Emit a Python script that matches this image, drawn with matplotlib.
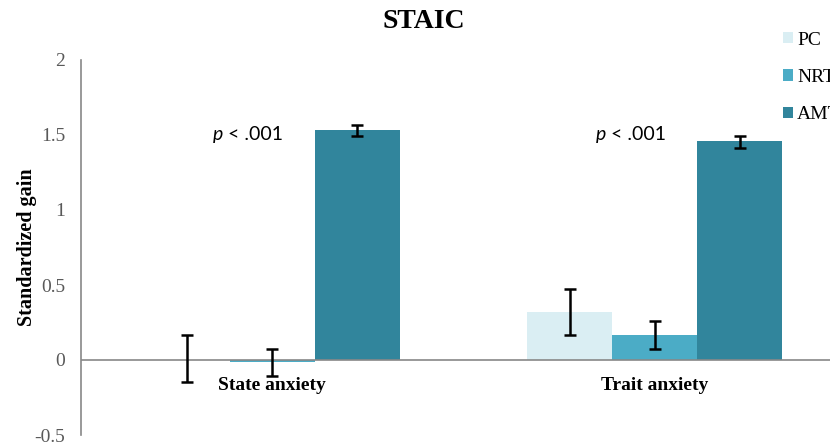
import matplotlib
matplotlib.use("Agg")
import matplotlib.pyplot as plt
import numpy as np
from matplotlib.patches import Patch

categories = ["State anxiety", "Trait anxiety"]
groups = ["PC", "NRT", "AMT"]
pc_gain = [0.0, 0.32]
nrt_gain = [-0.015, 0.165]
amt_gain = [1.53, 1.46]
pc_err_center = [0.01, 0.32]
nrt_err_center = [-0.017, 0.165]
amt_err_center = [1.53, 1.455]
pc_err = [0.155, 0.155]
nrt_err = [0.09, 0.093]
amt_err = [0.037, 0.04]
p_labels = ["< .001", "< .001"]
yticks = [-0.5, 0, 0.5, 1, 1.5, 2]
ytick_labels = ["-0.5", "0", "0.5", "1", "1.5", "2"]

colors = ["#DAEEF3", "#4BACC6", "#31859C"]
serif = ["Liberation Serif", "DejaVu Serif"]
sans = ["Lato", "DejaVu Sans"]

fig = plt.figure(figsize=(8.30, 4.44), dpi=100)
# plot area runs past the right edge of the figure
ax = fig.add_axes([81 / 830, 1 - 435 / 444, 765 / 830, 375 / 444])

x = np.arange(len(categories))
w = 1 / 4.5
values = [pc_gain, nrt_gain, amt_gain]
centers = [pc_err_center, nrt_err_center, amt_err_center]
errs = [pc_err, nrt_err, amt_err]
for i in range(3):
    xi = x + (i - 1) * w
    ax.bar(xi, values[i], width=w, color=colors[i], zorder=2)
    ax.errorbar(xi, centers[i], yerr=errs[i], fmt="none", ecolor="black",
                elinewidth=1.8, capsize=4.5, capthick=1.8, zorder=4)

ax.set_xlim(-0.5, 1.5)
ax.set_ylim(-0.5, 2)
ax.axhline(0, color="#888888", lw=1.2, zorder=3)
for s in ["top", "right", "bottom"]:
    ax.spines[s].set_visible(False)
ax.spines["left"].set_color("#888888")
ax.spines["left"].set_linewidth(1.2)
ax.set_xticks([])
ax.set_yticks(yticks)
ax.set_yticklabels(ytick_labels, family=serif, fontsize=14, color="#595959")
ax.tick_params(axis="y", length=0, pad=11.5)

for xc, lab in zip(x, categories):
    ax.text(xc, -0.168, lab, ha="center", va="center", family=serif,
            fontsize=14, fontweight="bold")

for xc, lab in zip(x, p_labels):
    t = ax.text(xc - 0.155, 1.505, "p", ha="left", va="center",
                family=sans, fontsize=14, style="italic")
    ax.annotate(" " + lab, xycoords=t, xy=(1, 0.5), ha="left", va="center",
                family=sans, fontsize=14)

ax.set_ylabel("Standardized gain", family=serif, fontsize=14.5,
              fontweight="bold")
ax.yaxis.set_label_coords(-44 / 765, 0.5)

fig.text(424 / 830, 1 - 21 / 444, "STAIC", ha="center", va="center",
         family=serif, fontsize=20, fontweight="bold")

handles = [Patch(facecolor=c, edgecolor="none") for c in colors]
fig.legend(handles, groups, loc="upper left", bbox_to_anchor=(765 / 830, 1 - 14 / 444),
           frameon=False, handlelength=0.55, handleheight=0.55, labelspacing=1.05,
           handletextpad=0.2, prop={"family": serif, "size": 14})

fig.savefig("out.png", dpi=100)
